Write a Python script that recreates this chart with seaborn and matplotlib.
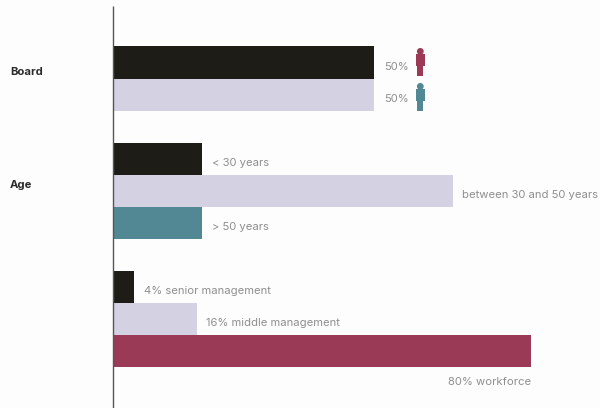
import matplotlib
matplotlib.use("Agg")
import matplotlib.pyplot as plt
from matplotlib.patches import Circle, Rectangle
import pandas as pd
import seaborn as sns

# Share of people per row; blank rows separate the three groups
rows = ["board_a", "board_b", "gap_1", "age_young", "age_mid", "age_old",
        "gap_2", "mgmt_senior", "mgmt_middle", "mgmt_workforce"]
shares = [50, 50, 0, 17, 65, 17, 0, 4, 16, 80]
tones = ["ink", "lilac", "ink", "ink", "lilac", "teal",
         "ink", "ink", "lilac", "crimson"]
captions = ["50%", "50%", "", "< 30 years", "between 30 and 50 years", "> 50 years",
            "", "4% senior management", "16% middle management", "80% workforce"]
group_names = ["Board", "Age"]
palette = {"ink": "#1d1c16", "lilac": "#d3d1e2", "teal": "#528794", "crimson": "#9b3a57"}

W, H = 600, 408
AXIS_X = 113
PX_PER_PCT = 5.225
ROW_PX = 32.1
FIRST_ROW_Y = 62.5
TEXT_GREY = "#8f8f8f"
BG = "#fdfdfd"
TEXT_SIZE = 8.1

sns.set_theme(style="white")
plt.rcParams["font.family"] = ["Inter", "DejaVu Sans"]

fig = plt.figure(figsize=(W / 100, H / 100), dpi=100, facecolor=BG)
ax = fig.add_axes([AXIS_X / W, 0, 1 - AXIS_X / W, 1], facecolor=BG)

frame = pd.DataFrame({"row": rows, "share": shares, "tone": tones})
sns.barplot(data=frame, x="share", y="row", hue="tone", palette=palette, order=rows,
            dodge=False, width=1.0, legend=False, ax=ax, saturation=1, linewidth=0)

ax.set_xlim(0, (W - AXIS_X) / PX_PER_PCT)
ax.set_ylim((H - FIRST_ROW_Y) / ROW_PX, -FIRST_ROW_Y / ROW_PX)
ax.set_xlabel("")
ax.set_ylabel("")
ax.set_xticks([])
ax.set_yticks([])
sns.despine(ax=ax, left=True, bottom=True)

# Captions sit just past each bar; the workforce bar has its caption underneath
for i, (share, caption) in enumerate(zip(shares, captions)):
    if not caption:
        continue
    if rows[i] == "mgmt_workforce":
        ax.annotate(caption, (share, i), xytext=(0, -30.5 * 0.72), textcoords="offset points",
                    ha="right", va="center", fontsize=TEXT_SIZE, color=TEXT_GREY)
    else:
        ax.annotate(caption, (share, i), xytext=(7.0, -4 * 0.72), textcoords="offset points",
                    ha="left", va="center", fontsize=TEXT_SIZE, color=TEXT_GREY)

# Overlay in pixel units for the vertical rule, group names and person icons
over = fig.add_axes([0, 0, 1, 1], facecolor="none")
over.set_xlim(0, W)
over.set_ylim(H, 0)
over.axis("off")
over.plot([AXIS_X, AXIS_X], [6, H], color="#555555", lw=1.0, solid_capstyle="butt")

for name, y in zip(group_names, [72, 185]):
    over.text(10, y, name, fontsize=TEXT_SIZE, fontweight="bold", color="#2a2a2a",
              ha="left", va="center")


def person(cx, top, color):
    """Small standing figure: head, torso, legs."""
    over.add_patch(Circle((cx, top + 3.4), 3.4, color=color, lw=0))
    over.add_patch(Rectangle((cx - 4.2, top + 6), 8.4, 12, color=color, lw=0))
    over.add_patch(Rectangle((cx - 2.9, top + 18), 5.8, 10, color=color, lw=0))


person(420.3, 48, palette["crimson"])
person(420.3, 83, palette["teal"])

fig.savefig("out.png", dpi=100, facecolor=BG)
